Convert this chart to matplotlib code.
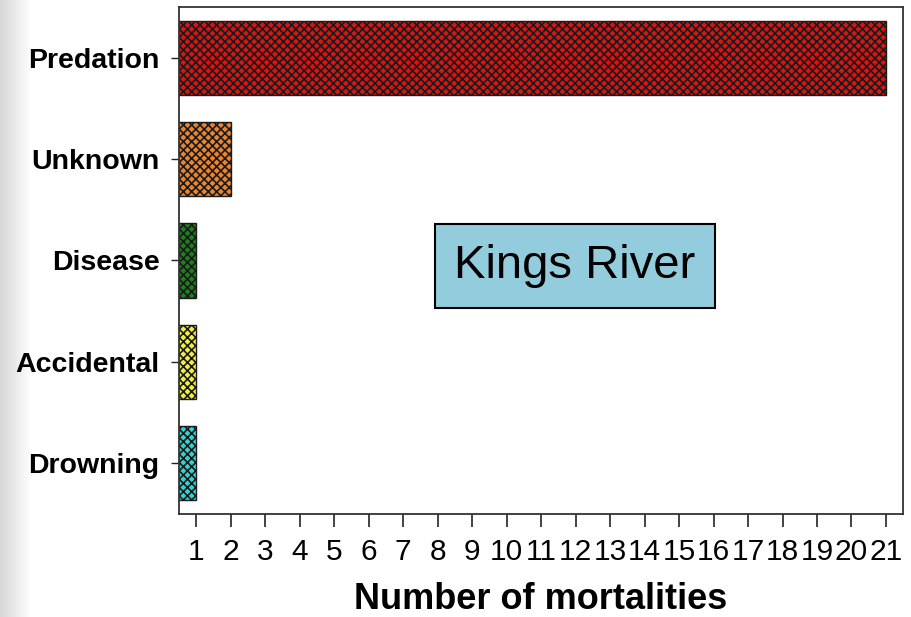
import numpy as np
import matplotlib
matplotlib.use("Agg")
import matplotlib.pyplot as plt

categories = ["Predation", "Unknown", "Disease", "Accidental", "Drowning"]
values = [21, 2, 1, 1, 1]
colors = ["#D81414", "#EA842E", "#1E7E1E", "#F0F03C", "#36D0D0"]
xticks = list(range(1, 22))

plt.rcParams['font.family'] = ['Liberation Sans', 'DejaVu Sans']
plt.rcParams['hatch.linewidth'] = 1.2

fig = plt.figure(figsize=(9.12, 6.17), dpi=100)

# subtle slide shadow at left edge
sh = fig.add_axes([0, 0, 0.035, 1])
grad = np.linspace(0.84, 1.0, 64)[None, :]
sh.imshow(grad, aspect='auto', cmap='gray', vmin=0, vmax=1, extent=[0, 1, 0, 1])
sh.axis('off')

ax = fig.add_axes([0.1963, 0.1669, 0.7937, 0.8218])
ypos = np.arange(len(categories))
for i, (c, v, col) in enumerate(zip(categories, values, colors)):
    ax.barh(i, v, left=0, height=0.73, color=col, edgecolor='#1a1a1a',
            hatch='xxxx', linewidth=1.0, zorder=2)

ax.set_ylim(len(categories) - 0.5, -0.5)
ax.set_xlim(0.5, 21.49)
ax.set_yticks(ypos)
ax.set_yticklabels(categories, fontsize=20.5, fontweight='bold')
ax.set_xticks(xticks)
ax.set_xticklabels([str(t) for t in xticks], fontsize=21.5)
ax.tick_params(axis='x', length=9, width=1.2, pad=8, color='#222222')
ax.tick_params(axis='y', length=6, width=1.0, pad=8, color='#222222')
for s in ax.spines.values():
    s.set_linewidth(1.3)
    s.set_color('#333333')
ax.set_xlabel("Number of mortalities", fontsize=26, fontweight='bold', labelpad=12)

ax.text(0.547, 0.489, "Kings River", transform=ax.transAxes, fontsize=34,
        ha='center', va='center', color='black',
        bbox=dict(boxstyle='square,pad=0.42', facecolor='#93CDDD',
                  edgecolor='black', linewidth=1.5))

fig.savefig("out.png", dpi=100)
